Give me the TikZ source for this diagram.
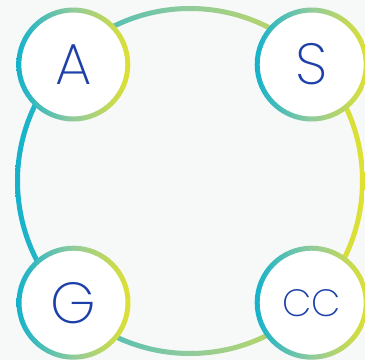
\documentclass[tikz,border=0pt]{standalone}
\usepackage{fontspec}
\newfontfamily\lblfont{Poppins ExtraLight}
\definecolor{bgc}{RGB}{247,248,248}
\definecolor{gcyan}{RGB}{20,178,204}
\definecolor{gmid}{RGB}{145,203,155}
\definecolor{gyel}{RGB}{224,225,48}
\definecolor{txtc}{RGB}{28,64,168}
\tikzset{
  hub/.style={circle,fill=white,inner sep=0pt,minimum size=108pt,text=txtc},
  bigtext/.style={font=\lblfont\fontsize{58}{58}\selectfont},
  smalltext/.style={font=\lblfont\fontsize{38}{38}\selectfont},
  ringshade/.style={left color=gcyan,right color=gyel,middle color=gmid,even odd rule,draw=none},
}
\begin{document}
\begin{tikzpicture}[x=1pt,y=1pt]
\fill[bgc] (0,0) rectangle (365,360);
\useasboundingbox (0,0) rectangle (365,360);
% big ring
\coordinate (o) at (190,179);
\shade[ringshade] (o) circle (175) (o) circle (170);
% hubs
\node[hub,bigtext] (a) at (73.3,295.5) {A};
\node[hub,bigtext] (s) at (311.7,295.5) {S};
\node[hub,bigtext] (g) at (73.5,57.3) {G};
\node[hub,smalltext] (cc) at (311.7,57.3) {CC};
\foreach \n in {a,s,g,cc}{
  \shade[ringshade] (\n.center) circle (57) (\n.center) circle (52);
}
\end{tikzpicture}
\end{document}
